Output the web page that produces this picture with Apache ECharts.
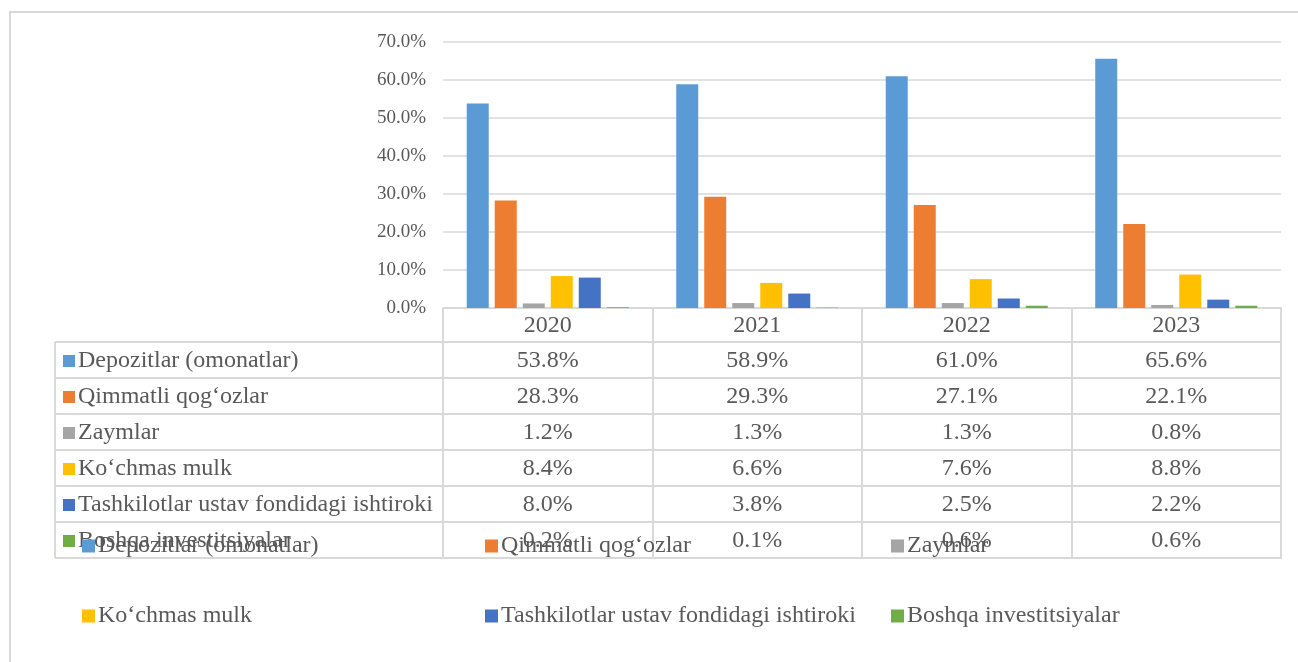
<!DOCTYPE html>
<html>
<head>
<meta charset="utf-8">
<script src="https://cdn.jsdelivr.net/npm/echarts@6/dist/echarts.min.js"></script>
<style>
html,body{margin:0;padding:0;background:#fff;}
#chart{width:1298px;height:662px;}
</style>
</head>
<body>
<div id="chart"></div>
<script>
var years = ['2020', '2021', '2022', '2023'];
var seriesNames = ['Depozitlar (omonatlar)', 'Qimmatli qog‘ozlar', 'Zaymlar', 'Ko‘chmas mulk', 'Tashkilotlar ustav fondidagi ishtiroki', 'Boshqa investitsiyalar'];
var depozitlar = [53.8, 58.9, 61.0, 65.6];
var qimmatli = [28.3, 29.3, 27.1, 22.1];
var zaymlar = [1.2, 1.3, 1.3, 0.8];
var kochmas = [8.4, 6.6, 7.6, 8.8];
var tashkilotlar = [8.0, 3.8, 2.5, 2.2];
var boshqa = [0.2, 0.1, 0.6, 0.6];
var yTicks = [0, 10, 20, 30, 40, 50, 60, 70];

var seriesData = [depozitlar, qimmatli, zaymlar, kochmas, tashkilotlar, boshqa];
var colors = ['#5B9BD5', '#ED7D31', '#A5A5A5', '#FFC000', '#4472C4', '#70AD47'];
var FONT = '"Liberation Serif", "Times New Roman", serif';
var TXT = '#595959';
var LINE = '#d9d9d9';

var chart = echarts.init(document.getElementById('chart'), null, {renderer: 'canvas'});

var series = seriesNames.map(function (n, i) {
  return {
    name: n,
    type: 'bar',
    data: seriesData[i],
    barWidth: 22,
    barGap: '27.3%',
    itemStyle: {color: colors[i]}
  };
});

function legendCol(left, names) {
  return {
    orient: 'vertical',
    left: left,
    top: 534,
    padding: 0,
    itemWidth: 13,
    itemHeight: 13,
    itemGap: 46,
    icon: 'rect',
    data: names,
    textStyle: {fontFamily: FONT, fontSize: 24, color: TXT, padding: [0, 0, 0, -2]}
  };
}

var option = {
  animation: false,
  color: colors,
  textStyle: {fontFamily: FONT},
  grid: {left: 443, right: 17, top: 42, bottom: 354, containLabel: false},
  xAxis: {
    type: 'category',
    data: years,
    boundaryGap: true,
    axisLine: {show: true, lineStyle: {color: LINE, width: 2}},
    axisTick: {show: true, interval: 0, length: 251, inside: false, lineStyle: {color: LINE, width: 2}},
    axisLabel: {fontFamily: FONT, fontSize: 24, color: TXT, margin: 6}
  },
  yAxis: {
    type: 'value',
    min: yTicks[0],
    max: yTicks[yTicks.length - 1],
    interval: 10,
    axisLine: {show: false},
    axisTick: {show: false},
    splitLine: {lineStyle: {color: LINE, width: 1.5}},
    axisLabel: {fontFamily: FONT, fontSize: 19, color: TXT, margin: 17,
      formatter: function (v) { return v.toFixed(1) + '%'; }}
  },
  legend: [
    legendCol(82, [seriesNames[0], seriesNames[3]]),
    legendCol(485, [seriesNames[1], seriesNames[4]]),
    legendCol(891, [seriesNames[2], seriesNames[5]])
  ],
  series: series
};
chart.setOption(option);

// Build data table from the arrays, positioned from the chart's own axis scales
var zeroY = chart.convertToPixel({yAxisIndex: 0}, 0);
var catLeft = chart.convertToPixel({xAxisIndex: 0}, years[0]);
var catStep = chart.convertToPixel({xAxisIndex: 0}, years[1]) - catLeft;
var gridLeft = catLeft - catStep / 2;
var gridRight = gridLeft + catStep * years.length;
var tableLeft = 55;
var headerBottom = zeroY + 34;
var rowH = 36;

var g = [];
// outer frame
g.push({type: 'rect', shape: {x: 10, y: 12, width: 1320, height: 700}, style: {fill: null, stroke: LINE, lineWidth: 2}, silent: true});
// horizontal rows
for (var r = 0; r <= seriesNames.length; r++) {
  var y = headerBottom + r * rowH;
  g.push({type: 'line', shape: {x1: tableLeft, y1: y, x2: gridRight, y2: y}, style: {stroke: LINE, lineWidth: 2}, silent: true});
}
// left border of table
g.push({type: 'line', shape: {x1: tableLeft, y1: headerBottom, x2: tableLeft, y2: headerBottom + rowH * seriesNames.length}, style: {stroke: LINE, lineWidth: 2}, silent: true});

seriesNames.forEach(function (n, i) {
  var cy = headerBottom + i * rowH + rowH / 2 + 1;
  g.push({type: 'rect', shape: {x: 63, y: cy - 6, width: 12, height: 12}, style: {fill: colors[i]}, silent: true});
  g.push({type: 'text', x: 78, y: cy, style: {text: n, fontFamily: FONT, fontSize: 24, fill: TXT, verticalAlign: 'middle', align: 'left'}, silent: true});
  years.forEach(function (yr, j) {
    var cx = chart.convertToPixel({xAxisIndex: 0}, yr);
    g.push({type: 'text', x: cx, y: cy, style: {text: seriesData[i][j].toFixed(1) + '%', fontFamily: FONT, fontSize: 24, fill: TXT, align: 'center', verticalAlign: 'middle'}, silent: true});
  });
});

chart.setOption({graphic: {elements: g}});
</script>
</body>
</html>
